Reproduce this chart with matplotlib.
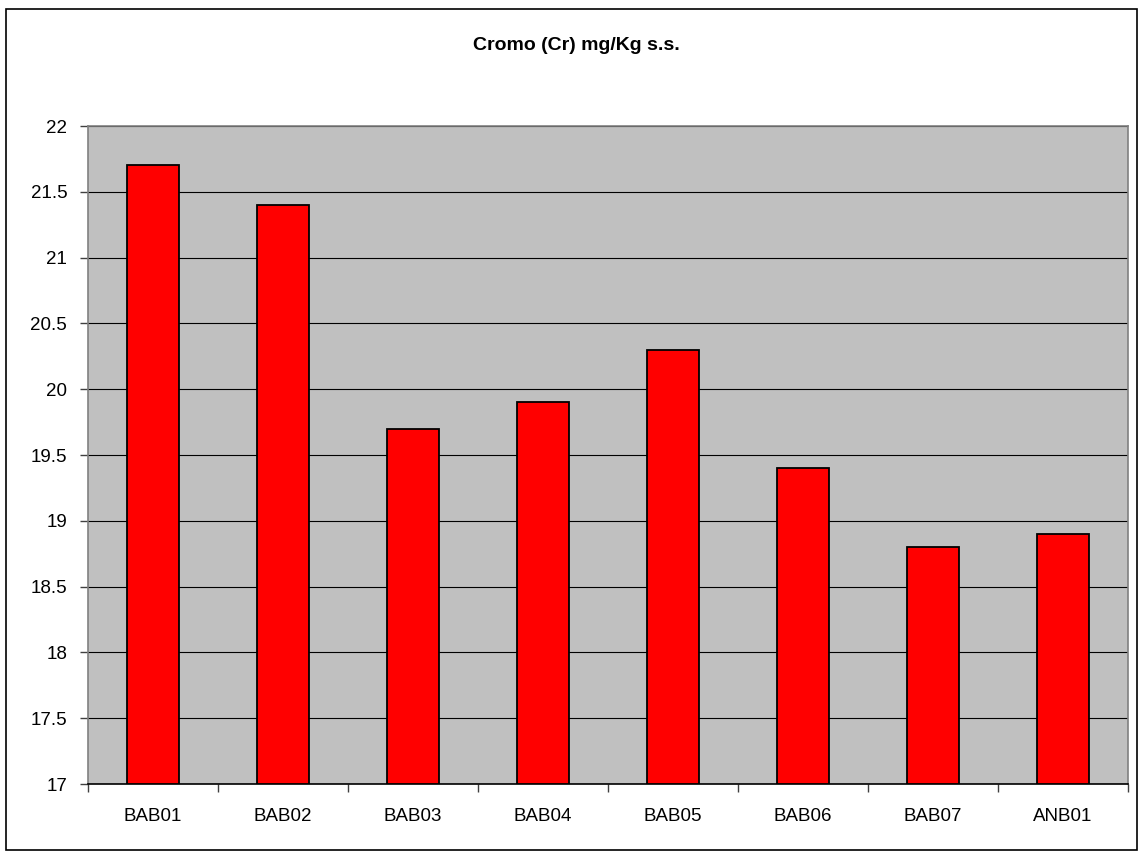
import matplotlib
matplotlib.use("Agg")
import matplotlib.pyplot as plt
from matplotlib.patches import Rectangle
import numpy as np

categories = ["BAB01", "BAB02", "BAB03", "BAB04", "BAB05", "BAB06", "BAB07", "ANB01"]
values = [21.7, 21.4, 19.7, 19.9, 20.3, 19.4, 18.8, 18.9]
y_ticks = [17, 17.5, 18, 18.5, 19, 19.5, 20, 20.5, 21, 21.5, 22]
y_tick_labels = ["17", "17.5", "18", "18.5", "19", "19.5", "20", "20.5", "21", "21.5", "22"]
title = "Cromo (Cr) mg/Kg s.s."

plt.rcParams["font.family"] = ["Liberation Sans", "DejaVu Sans"]

fig = plt.figure(figsize=(11.39, 8.55), dpi=100)
W, H = 1139, 855

# outer chart border
fig.patches.append(Rectangle((6 / W, 1 - 850 / H), (1137 - 6) / W, (850 - 9) / H,
                             transform=fig.transFigure, fill=False,
                             edgecolor="black", linewidth=1.2))

left, right, top, bottom = 88, 1128, 126, 784
ax = fig.add_axes([left / W, 1 - bottom / H, (right - left) / W, (bottom - top) / H])
ax.set_facecolor("#C0C0C0")

x = np.arange(len(categories))
ax.bar(x, [v - 17 for v in values], bottom=17, width=0.4, color="#FF0000",
       edgecolor="black", linewidth=1.3, zorder=3)

ax.set_xlim(-0.5, len(categories) - 0.5)
ax.set_ylim(17, 22)
ax.set_yticks(y_ticks)
ax.set_yticklabels(y_tick_labels, fontsize=13.5)
ax.yaxis.grid(True, color="black", linewidth=0.8, zorder=1)
ax.set_axisbelow(True)

ax.set_xticks(x)
ax.set_xticklabels(categories, fontsize=13.5)
ax.tick_params(axis="x", length=0, pad=17)
ax.set_xticks(np.arange(-0.5, len(categories) + 0.5, 1), minor=True)
ax.tick_params(axis="x", which="minor", length=6, width=1, color="#404040", direction="out")
ax.tick_params(axis="y", length=6, width=1, color="#404040", direction="out", pad=9)

for side in ["left", "top", "right"]:
    ax.spines[side].set_color("#808080")
    ax.spines[side].set_linewidth(1.2)
ax.spines["bottom"].set_color("black")
ax.spines["bottom"].set_linewidth(1.2)

fig.text(576 / W, 1 - 46 / H, title, ha="center", va="center",
         fontsize=14, fontweight="bold")

fig.savefig("out.png", dpi=100)
